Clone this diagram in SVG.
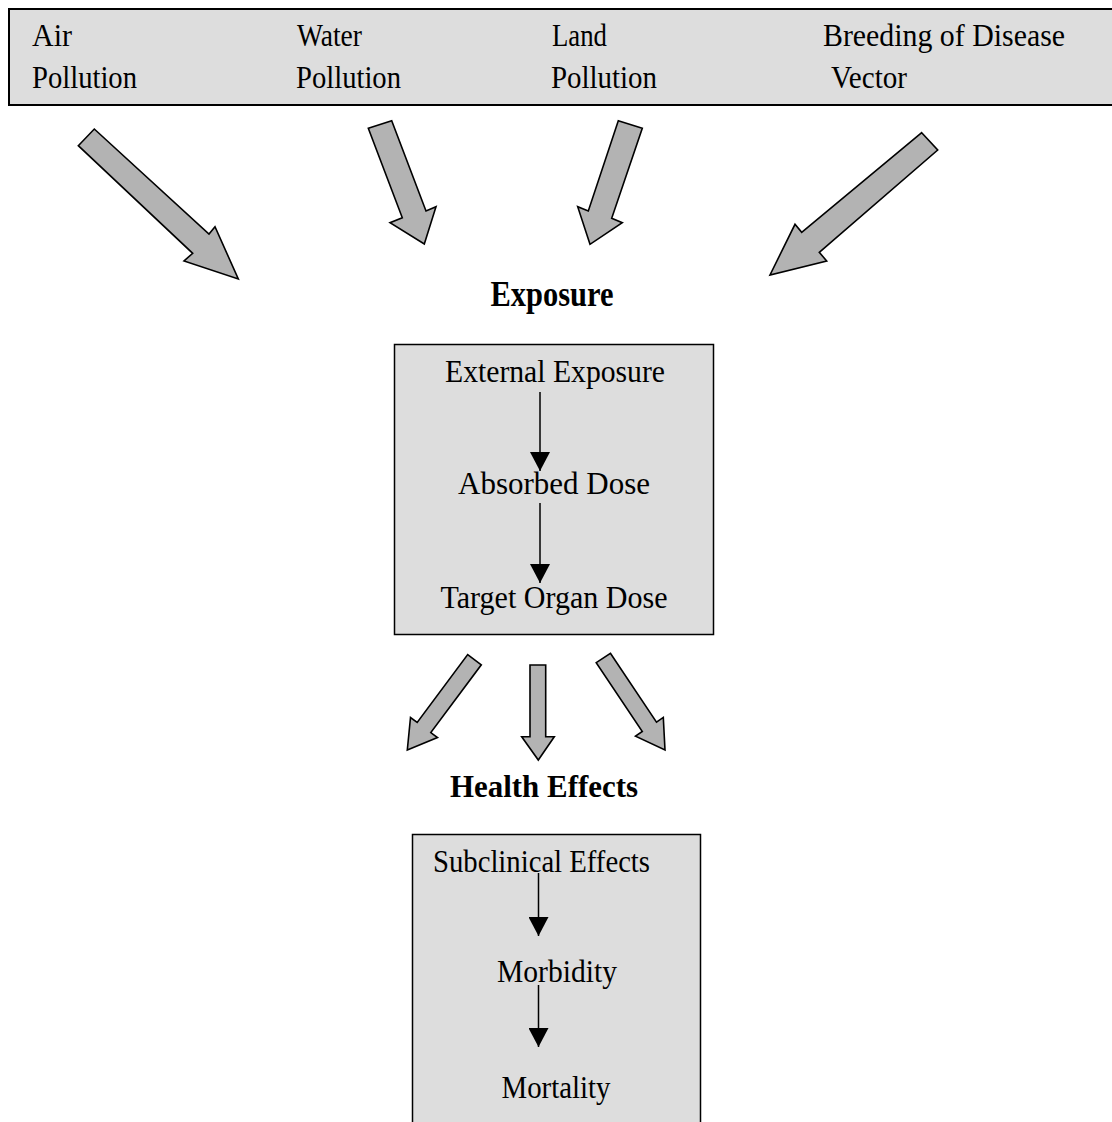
<svg xmlns="http://www.w3.org/2000/svg" width="1112" height="1122" viewBox="0 0 1112 1122">
<style>
.box{fill:#dddddd;stroke:#000;stroke-width:2}
.blk{fill:#b3b3b3;stroke:#000;stroke-width:1.6;stroke-linejoin:miter}
.t{font-family:"Liberation Serif","Times New Roman",serif;font-size:31px;fill:#000}
.c{text-anchor:middle}
.b{font-weight:bold}
.ln{stroke:#000;stroke-width:1.5;fill:none}
</style>
<defs>
<marker id="ah" viewBox="0 0 19 20" refX="19" refY="10" markerWidth="19" markerHeight="20" markerUnits="userSpaceOnUse" orient="auto">
<path d="M0,0 L19,10 L0,20 Z" fill="#000"/>
</marker>
</defs>
<rect width="1112" height="1122" fill="#fff"/>
<g id="sources">
<rect class="box" x="9" y="9" width="1110" height="96"/>
<text class="t" x="32" y="46" textLength="40" lengthAdjust="spacingAndGlyphs">Air</text>
<text class="t" x="32" y="88" textLength="105" lengthAdjust="spacingAndGlyphs">Pollution</text>
<text class="t" x="297" y="46" textLength="65" lengthAdjust="spacingAndGlyphs">Water</text>
<text class="t" x="296" y="88" textLength="105" lengthAdjust="spacingAndGlyphs">Pollution</text>
<text class="t" x="552" y="46" textLength="55" lengthAdjust="spacingAndGlyphs">Land</text>
<text class="t" x="551" y="88" textLength="106" lengthAdjust="spacingAndGlyphs">Pollution</text>
<text class="t" x="823" y="46" textLength="242" lengthAdjust="spacingAndGlyphs">Breeding of Disease</text>
<text class="t" x="831" y="88" textLength="76" lengthAdjust="spacingAndGlyphs">Vector</text>
</g>
<g id="exposure-title">
<text class="t c b" x="552" y="306" style="font-size:36px" textLength="123" lengthAdjust="spacingAndGlyphs">Exposure</text>
</g>
<g id="exposure">
<rect class="box" x="394.5" y="344.5" width="319" height="290" style="stroke-width:1.5"/>
<text class="t c" x="555" y="382" textLength="220" lengthAdjust="spacingAndGlyphs">External Exposure</text>
<text class="t c" x="554" y="494" textLength="192" lengthAdjust="spacingAndGlyphs">Absorbed Dose</text>
<text class="t c" x="554" y="608" textLength="227" lengthAdjust="spacingAndGlyphs">Target Organ Dose</text>
</g>
<g id="health-title">
<text class="t c b" x="544" y="797" style="font-size:31px" textLength="188" lengthAdjust="spacingAndGlyphs">Health Effects</text>
</g>
<g id="health">
<rect class="box" x="412.5" y="834.5" width="288" height="300" style="stroke-width:1.5"/>
<text class="t c" x="541.5" y="872" textLength="217" lengthAdjust="spacingAndGlyphs">Subclinical Effects</text>
<text class="t c" x="557" y="982" textLength="120" lengthAdjust="spacingAndGlyphs">Morbidity</text>
<text class="t c" x="556" y="1098" textLength="109" lengthAdjust="spacingAndGlyphs">Mortality</text>
</g>
<g id="connectors">
<polygon class="blk" points="78.3,145.7 94.3,129 209,234 215,226.7 238.3,279 184,261 192.7,253.3"/>
<polygon class="blk" points="368.3,128.3 391.7,120.7 426,211 436,206.7 424.3,244 390,222.7 402.3,217.7"/>
<polygon class="blk" points="618.3,120.7 642.3,128.3 611.7,218.3 622.3,222.7 590,244.3 577.7,206.7 588.3,211"/>
<polygon class="blk" points="921.7,132.7 937.7,150 819.3,252.3 826.7,261 770,275 795,224.3 801.7,232.3"/>
<polygon class="blk" points="467.7,654.6 481.3,664.8 430.8,732.6 437.5,737.5 407.3,750 410.5,717.5 417.2,722.4"/>
<polygon class="blk" points="530,665 545.7,665 545.7,736.7 554.3,736.7 538.3,760 521.7,736.7 530,736.7"/>
<polygon class="blk" points="610.4,653.3 656.5,722.1 663.3,717.4 665,750 635.5,736.2 642.3,731.5 596.2,662.7"/>
<line class="ln" x1="540" y1="392" x2="540" y2="471" marker-end="url(#ah)"/>
<line class="ln" x1="540" y1="503" x2="540" y2="583" marker-end="url(#ah)"/>
<line class="ln" x1="538.5" y1="873" x2="538.5" y2="936" marker-end="url(#ah)"/>
<line class="ln" x1="538.5" y1="985" x2="538.5" y2="1047" marker-end="url(#ah)"/>
</g>
</svg>
